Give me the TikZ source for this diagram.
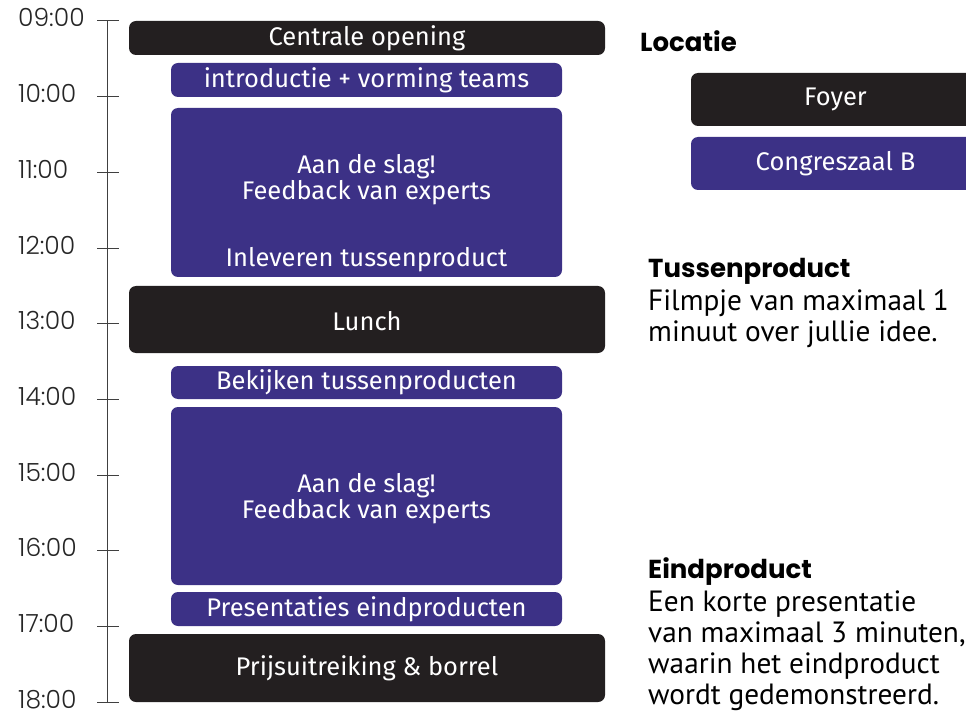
\documentclass[tikz,border=0pt]{standalone}
\usepackage{fontspec}
\setmainfont{PT Sans}
\newfontfamily\slotfont{Fira Sans}
\newfontfamily\timefont{Poppins}[UprightFont={* Light}]
\newfontfamily\headfont{Poppins}
\usetikzlibrary{positioning}

\definecolor{slotblack}{HTML}{231F20}
\definecolor{slotpurple}{HTML}{3C3186}

\tikzset{
  slot/.style={rounded corners=7pt, text=white, inner sep=0pt, align=center,
    font=\slotfont\fontsize{25.5}{26}\selectfont},
  blackslot/.style={slot, fill=slotblack},
  purpleslot/.style={slot, fill=slotpurple},
  slottext/.style={text=white, inner sep=0pt, align=center, anchor=base,
    font=\slotfont\fontsize{25.5}{26}\selectfont},
  hour/.style={anchor=base west, inner sep=0pt, text=black!85,
    font=\timefont\fontsize{25}{28}\selectfont},
  heading/.style={anchor=base west, inner sep=0pt,
    font=\headfont\bfseries\fontsize{26}{28}\selectfont},
  info/.style={anchor=base west, inner sep=0pt, align=left,
    font=\fontsize{29.3}{31}\selectfont}
}

\begin{document}
\begin{tikzpicture}[x=1pt,y=-1pt]
\clip (0,0) rectangle (966,711);

% time axis
\draw[black!75, line width=1pt] (107,21) -- (107,702);
\foreach \h [count=\i from 0] in {09,10,11,12,13,14,15,16,17,18}{
  \pgfmathsetmacro\ty{21+75.67*\i}
  \draw[black!75, line width=1pt] (97,\ty) -- (119,\ty);
  \node[hour] (t\h) at (18,\ty+6) {\h:00};
}

% programme
\node[blackslot, minimum width=476pt, minimum height=34pt] (opening) at (367,38) {Centrale opening};
\node[purpleslot, minimum width=391pt, minimum height=34pt] (intro) at (366.5,80) {introductie + vorming teams};
\node[purpleslot, minimum width=391pt, minimum height=169pt] (slag1) at (366.5,192.5) {};
\node[slottext] (slag1txt) at (366.5,200) {Aan de slag!\\Feedback van experts};
\node[slottext] (inlev) at (366.5,267) {Inleveren tussenproduct};
\node[blackslot, minimum width=476pt, minimum height=67pt, text depth=0pt] (lunch) at (367,319.5) {\raisebox{-3.5pt}{Lunch}};
\node[purpleslot, minimum width=391pt, minimum height=33pt] (bekijk) at (366.5,382.5) {Bekijken tussenproducten};
\node[purpleslot, minimum width=391pt, minimum height=178pt] (slag2) at (366.5,496) {};
\node[slottext] (slag2txt) at (366.5,518) {Aan de slag!\\Feedback van experts};
\node[purpleslot, minimum width=391pt, minimum height=34pt] (present) at (366.5,609) {Presentaties eindproducten};
\node[blackslot, minimum width=476pt, minimum height=68pt] (prijs) at (367,668) {\raisebox{-3pt}{Prijsuitreiking \& borrel}};

% legend
\node[heading] (locatie) at (640,52) {Locatie};
\node[blackslot, minimum width=289pt, minimum height=53pt] (foyer) at (835.5,99.5) {Foyer};
\node[purpleslot, minimum width=289pt, minimum height=53pt] (zaal) at (835.5,163.5) {Congreszaal B};

\node[heading] (tussen) at (648,277) {Tussenproduct};
\node[info] (tussentxt) at (648,341) {Filmpje van maximaal 1\\minuut over jullie idee.};

\node[heading] (eind) at (648,578) {Eindproduct};
\node[info] (eindtxt) at (648,704) {Een korte presentatie\\van maximaal 3 minuten,\\waarin het eindproduct\\wordt gedemonstreerd.};
\end{tikzpicture}
\end{document}
